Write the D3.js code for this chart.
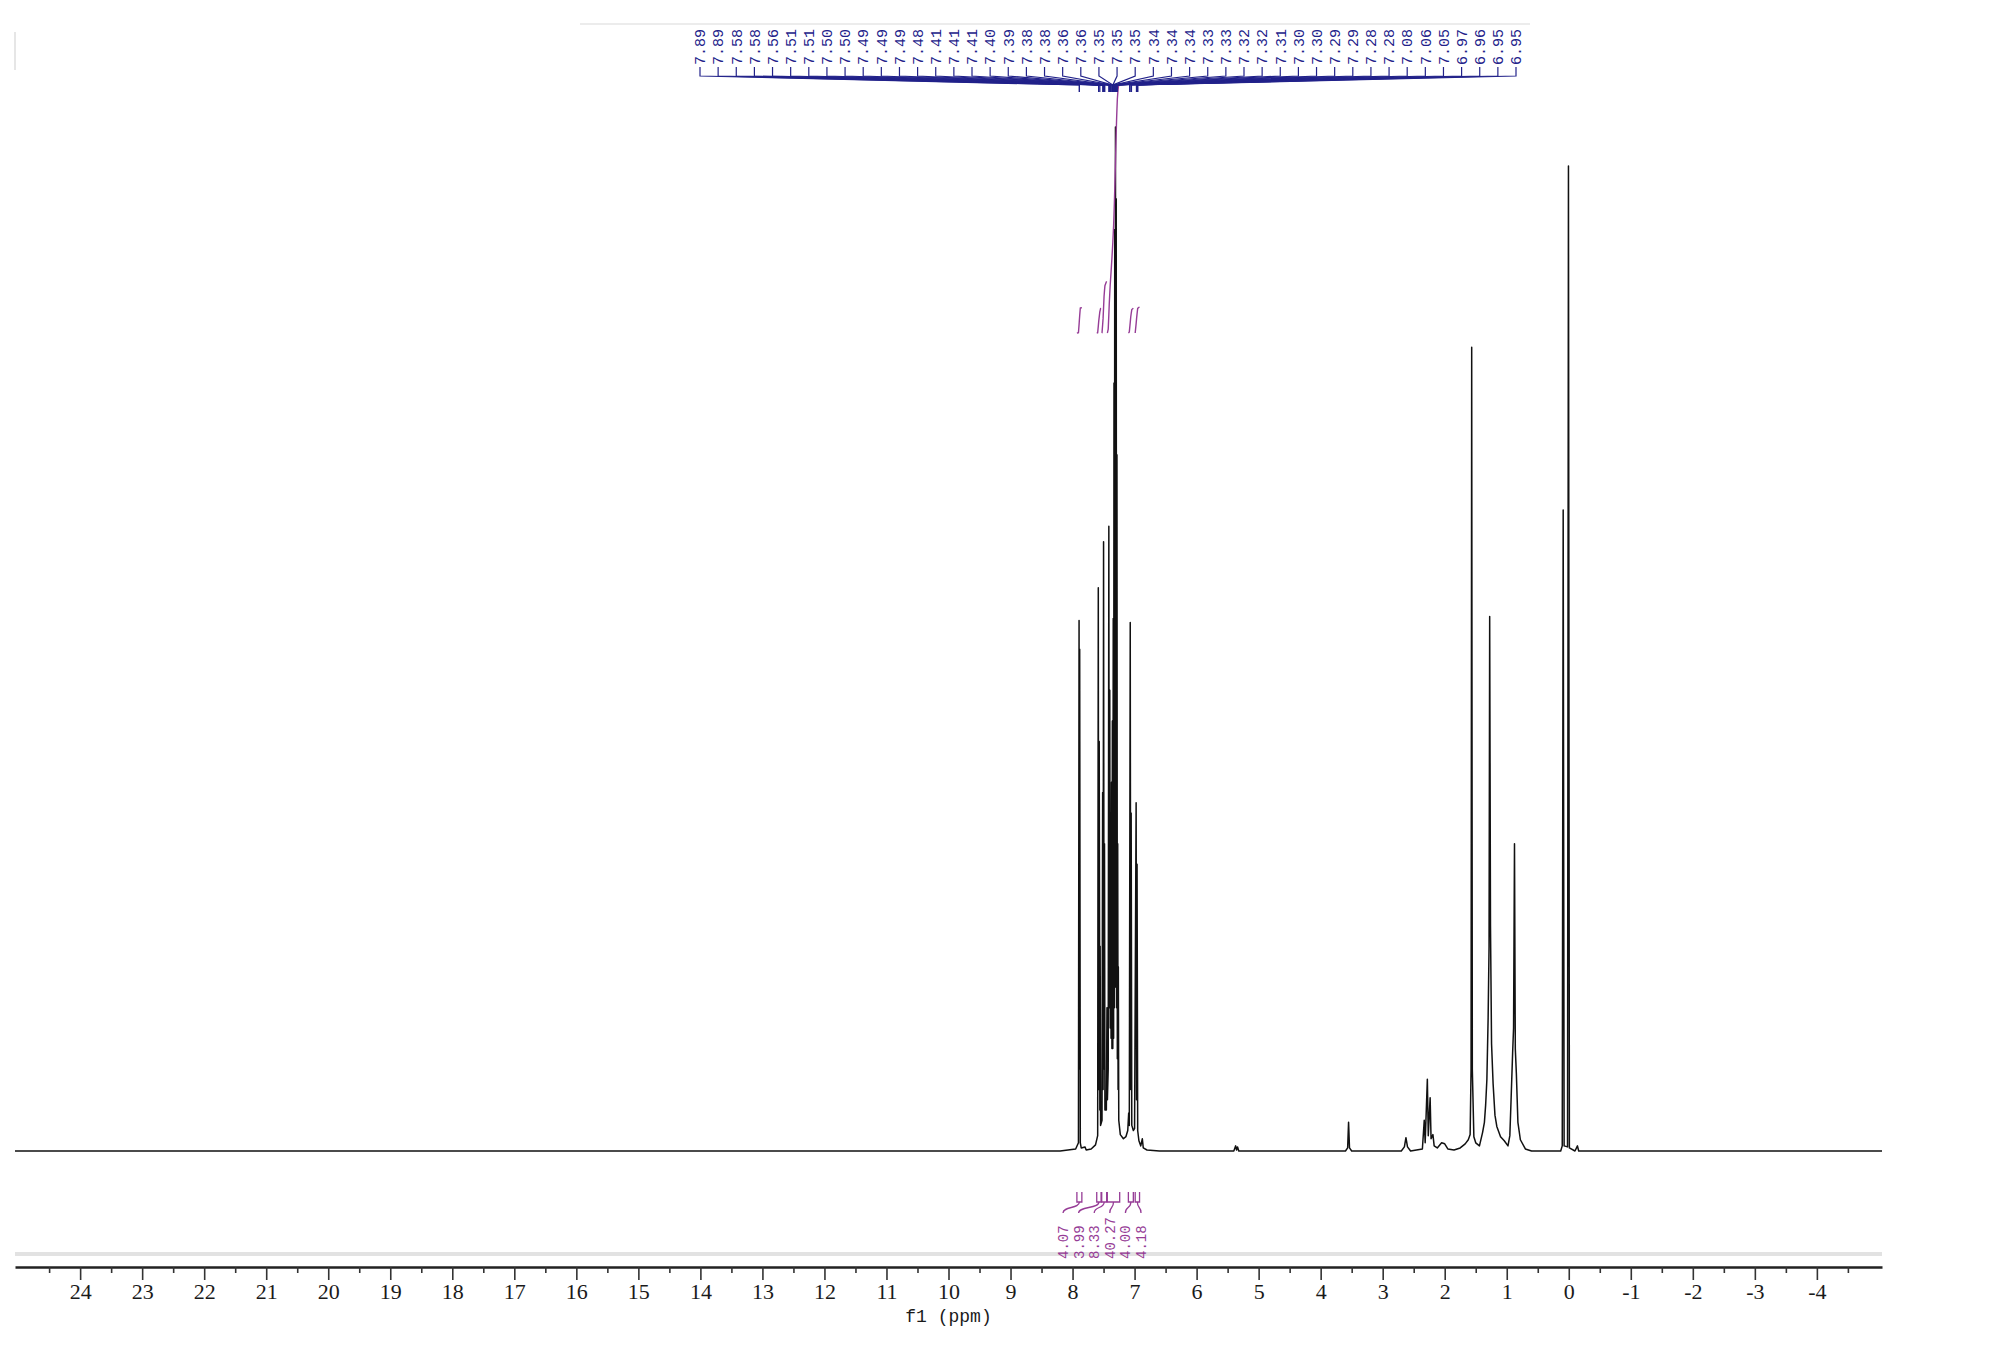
<!DOCTYPE html>
<html><head><meta charset="utf-8">
<script src="https://cdn.jsdelivr.net/npm/d3@7"></script>
<style>html,body{margin:0;padding:0;background:#fff;} svg{display:block}</style>
</head><body>
<svg id="c" width="1999" height="1352"></svg>
<script>
// spectrum trace: [ppm, intensity % of tallest]
const trace = [
 [25.05,0],[8.20,0],[7.95,0.2],
 [7.905,0.8],[7.895,51.8],[7.890,8],[7.885,49],[7.875,0.8],[7.86,0.3],
 [7.80,0.4],[7.78,0.1],[7.70,0.2],[7.63,0.6],
 [7.595,1.5],[7.585,55],[7.578,6],[7.57,40],[7.56,4],[7.555,20],[7.548,2.5],
 [7.525,3],[7.515,35],[7.508,6],[7.50,59.5],[7.492,8],[7.485,30],[7.478,4],
 [7.455,4],[7.445,14],[7.438,5],
 [7.425,8],[7.415,61],[7.408,14],[7.400,45],[7.393,12],[7.386,33],[7.379,11],[7.372,36],[7.365,10],
 [7.358,42],[7.351,10],[7.344,52],[7.338,11],[7.332,75],[7.326,14],[7.320,90],[7.314,16],[7.308,100],
 [7.302,18],[7.296,93],[7.290,14],[7.284,68],[7.278,9],[7.272,30],[7.266,6],[7.262,18],[7.255,3],
 [7.23,1.6],[7.18,1.2],[7.14,1.4],[7.11,2],[7.095,3.7],[7.085,2.5],
 [7.07,51.6],[7.062,6],[7.055,33],[7.045,2.5],[7.02,2],[7.0,2.2],
 [6.975,34],[6.968,5],[6.96,28],[6.95,2],[6.93,1],[6.90,0.5],[6.875,1.2],[6.86,0.3],[6.80,0.1],[6.60,0],
 [5.40,0],[5.37,0.5],[5.355,0.1],[5.34,0.4],[5.32,0],
 [3.60,0],[3.565,0.3],[3.55,2.8],[3.535,0.3],[3.50,0],
 [2.70,0],[2.65,0.4],[2.625,1.3],[2.60,0.4],[2.55,0],
 [2.36,0.2],[2.33,3.0],[2.315,0.8],[2.28,7.0],[2.265,1.5],[2.235,5.2],[2.22,1.2],[2.19,1.6],[2.17,0.5],
 [2.12,0.3],[2.05,0.8],[2.00,0.7],[1.95,0.2],[1.85,0.1],[1.75,0.3],[1.67,0.7],[1.62,1.1],
 [1.59,1.6],[1.575,8],[1.565,78.5],[1.555,8],[1.53,1.4],[1.50,0.8],[1.44,0.5],
 [1.39,1.8],[1.36,2.8],[1.34,4.5],[1.32,7],[1.30,13],[1.285,20],[1.275,52.2],[1.262,22],[1.245,10.5],
 [1.22,6.6],[1.19,3.5],[1.16,2.4],[1.10,1.4],[1.04,1],[0.98,0.5],
 [0.95,1.5],[0.93,5],[0.905,9.6],[0.89,12],[0.875,30],[0.862,10],[0.845,7.6],[0.82,2.8],[0.78,1.1],
 [0.70,0.2],[0.60,0],[0.13,0],[0.105,0.5],[0.09,62.6],[0.075,0.5],[0.02,0.4],[0.005,96.2],[-0.01,0.3],
 [-0.10,0],[-0.14,0.5],[-0.16,0],[-5.05,0]
];

const peakLabels = ["7.89","7.89","7.58","7.58","7.56","7.51","7.51","7.50","7.50","7.49","7.49","7.49","7.48",
 "7.41","7.41","7.41","7.40","7.39","7.38","7.38","7.36","7.36","7.35","7.35","7.35","7.34","7.34","7.34",
 "7.33","7.33","7.32","7.32","7.31","7.30","7.30","7.29","7.29","7.28","7.28","7.08","7.06","7.05",
 "6.97","6.96","6.95","6.95"];

const integralFrom = [7.93, 7.61, 7.53, 7.44, 7.10, 6.99];
const integralTo   = [7.85, 7.54, 7.45, 7.24, 7.02, 6.92];
const integralValues = ["4.07","3.99","8.33","40.27","4.00","4.18"];

const majorTicks = [24,23,22,21,20,19,18,17,16,15,14,13,12,11,10,9,8,7,6,5,4,3,2,1,0,-1,-2,-3,-4];
const minorTicks = [24.5,23.5,22.5,21.5,20.5,19.5,18.5,17.5,16.5,15.5,14.5,13.5,12.5,11.5,10.5,9.5,8.5,7.5,6.5,5.5,4.5,3.5,2.5,1.5,0.5,-0.5,-1.5,-2.5,-3.5,-4.5];
const axisTitle = "f1 (ppm)";

const svg = d3.select("#c");
const x = d3.scaleLinear().domain([25.05, -5.05]).range([15, 1882]);
const y = d3.scaleLinear().domain([0, 100]).range([1151, 127]);
const navy = "#22228a", purple = "#963c96";

// faint frame lines
svg.append("line").attr("x1",15).attr("x2",1882).attr("y1",1254).attr("y2",1254)
  .attr("stroke","#e2e2e2").attr("stroke-width",4);
svg.append("line").attr("x1",15).attr("x2",15).attr("y1",32).attr("y2",70)
  .attr("stroke","#e6e6e6").attr("stroke-width",2);

// spectrum
svg.append("path").datum(trace)
  .attr("d", d3.line().x(d=>x(d[0])).y(d=>y(d[1])))
  .attr("fill","none").attr("stroke","#111").attr("stroke-width",1.5).attr("stroke-linejoin","round");

// integral curves (cumulative area of trace within each region)
const iy0 = 333, ik = 6.2;
integralFrom.forEach((f,i)=>{
  const t = integralTo[i];
  const pts = trace.filter(d=>d[0]<=f && d[0]>=t);
  const seg = [[f,0]].concat(pts).concat([[t,0]]);
  let cum=[0];
  for(let j=1;j<seg.length;j++){ cum.push(cum[j-1] + (seg[j-1][0]-seg[j][0])*(seg[j-1][1]+seg[j][1])/2); }
  const tot = cum[cum.length-1];
  const val = +integralValues[i];
  const line = seg.map((d,j)=>[x(d[0]), iy0 - cum[j]/tot*val*ik]);
  svg.append("path").attr("d", d3.line()(line)).attr("fill","none").attr("stroke",purple).attr("stroke-width",1.4);
});

// integration brackets and labels
const ilx = d3.scalePoint().domain(d3.range(integralValues.length)).range([1063,1141]);
integralFrom.forEach((f,i)=>{
  const x1 = x(f), x2 = x(integralTo[i]), cx=(x1+x2)/2, lx=ilx(i);
  const g = svg.append("g").attr("fill","none").attr("stroke",purple).attr("stroke-width",1.3);
  g.append("path").attr("d",`M${x1},1192V1202H${x2}V1192`);
  g.append("path").attr("d",`M${cx},1202C${cx},1209 ${lx},1206 ${lx},1213`);
  svg.append("text").attr("transform",`translate(${lx},1259) rotate(-90)`)
    .attr("dy","0.35em").attr("font-family","Liberation Mono").attr("font-size",14)
    .attr("fill",purple).text(integralValues[i]);
});

// peak labels
const plx = d3.scalePoint().domain(d3.range(peakLabels.length)).range([700,1516]);
svg.append("line").attr("x1",580).attr("x2",1530).attr("y1",24).attr("y2",24).attr("stroke","#ececec").attr("stroke-width",2);
peakLabels.forEach((s,i)=>{
  const lx = plx(i), px = x(+s);
  svg.append("path").attr("d",`M${lx},67V76L${px},85V92`).attr("fill","none").attr("stroke",navy).attr("stroke-width",1.2);
  svg.append("text").attr("transform",`translate(${lx},65) rotate(-90)`)
    .attr("dy","0.35em").attr("font-family","Liberation Mono").attr("font-size",15)
    .attr("fill",navy).text(s);
});

// axis
const ag = svg.append("g").attr("transform","translate(0,1267)");
ag.call(d3.axisBottom(x).tickValues(majorTicks).tickSize(13).tickSizeOuter(0).tickFormat(d=>String(d)));
const mg = svg.append("g").attr("transform","translate(0,1267)");
mg.call(d3.axisBottom(x).tickValues(minorTicks).tickSize(6).tickSizeOuter(0).tickFormat(""));
mg.select(".domain").remove();
ag.select(".domain").attr("stroke","#222").attr("stroke-width",2.4);
svg.selectAll(".tick line").attr("stroke","#333").attr("stroke-width",1.6);
ag.selectAll(".tick text").attr("font-family","Liberation Serif").attr("font-size",22).attr("fill","#1a1a1a");
svg.append("text").attr("x",x(10)).attr("y",1322).attr("text-anchor","middle")
  .attr("font-family","Liberation Mono").attr("font-size",18).attr("fill","#1a1a1a")
  .attr("xml:space","preserve").text(axisTitle);
</script>
</body></html>
